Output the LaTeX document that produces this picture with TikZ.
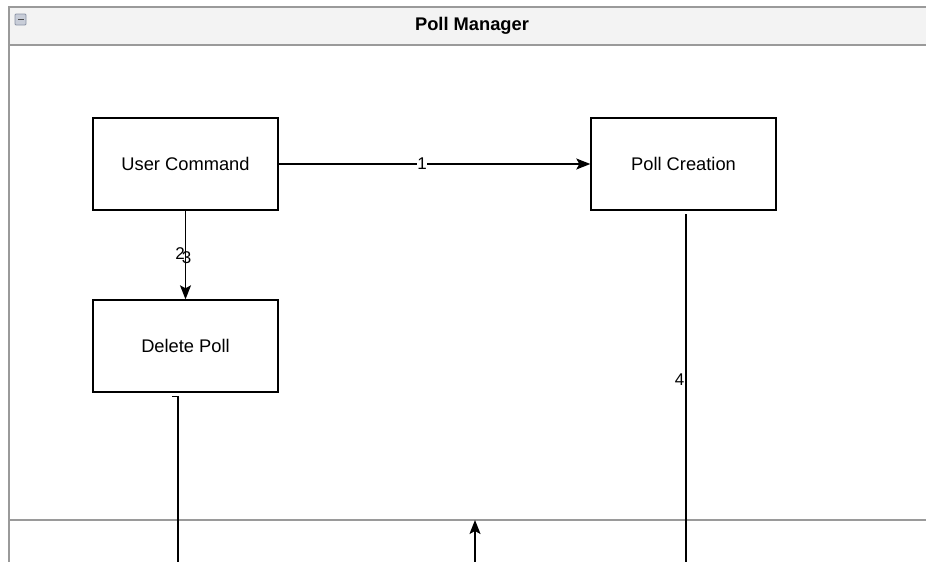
\documentclass[tikz,border=0pt]{standalone}
\usepackage{fontspec}
\setmainfont{Liberation Sans}
\usetikzlibrary{arrows.meta}
\definecolor{framegray}{HTML}{9A9A9A}
\definecolor{titlefill}{HTML}{F3F3F3}
\definecolor{iconfill}{HTML}{C8CDD8}
\definecolor{iconline}{HTML}{8C94A6}
\tikzset{
  block/.style={draw=black, line width=1.4pt, fill=white, minimum width=185pt,
    minimum height=92pt, inner sep=0pt, font=\fontsize{18.3}{20}\selectfont},
  flow/.style={draw=black, line width=1.5pt},
  flowarrow/.style={flow, -{Stealth[length=14pt,width=11pt,inset=3pt]}},
  elabel/.style={fill=white, inner sep=0.5pt, font=\fontsize{17}{19}\selectfont},
}
\begin{document}
\begin{tikzpicture}[x=1pt,y=-1pt]
  \useasboundingbox (0,0) rectangle (926,562);
  \begin{scope}
    \clip (0,0) rectangle (926,562);
    % swimlane container
    \fill[titlefill] (9,7) rectangle (940,45);
    \draw[framegray, line width=1.8pt] (9,562) -- (9,7) -- (940,7);
    \draw[framegray, line width=1.8pt] (9,45) -- (940,45);
    \draw[framegray, line width=1.8pt] (9,520) -- (940,520);
    % collapse icon
    \draw[iconline, fill=iconfill, line width=0.8pt, rounded corners=1pt] (15,14) rectangle (26,25);
    \fill[black!70] (17.5,18.8) rectangle (23.5,20.4);
    \node[font=\fontsize{18.3}{20}\selectfont\bfseries] (title) at (472,26) {Poll Manager};

    % blocks
    \node[block] (uc) at (185.5,164) {User Command};
    \node[block] (pc) at (683.5,164) {Poll Creation};
    \node[block] (dp) at (185.5,346) {Delete Poll};

    % connectors
    \draw[flowarrow] (uc.east) -- node[elabel, pos=0.46] (l1) {1} (pc.west);
    \draw[flowarrow] (uc.south) -- (dp.north);
    \node[elabel] (l2) at (180,254) {2};
    \node[font=\fontsize{17}{19}\selectfont, inner sep=0pt] (l3) at (186.5,258) {3};

    \coordinate (dpa) at (172,396.5);
    \coordinate (dpb) at (178,396.5);
    \coordinate (dpend) at (178,570);
    \draw[flow] (dpa) -- (dpb) -- (dpend);

    \coordinate (pcstart) at (686,214);
    \coordinate (pcend) at (686,570);
    \draw[flow] (pcstart) -- (pcend);
    \node[font=\fontsize{17}{19}\selectfont, anchor=east, inner sep=0pt] (l4) at (684.5,380) {4};

    \coordinate (upstart) at (475,570);
    \coordinate (uptip) at (475,520);
    \draw[flowarrow] (upstart) -- (uptip);
  \end{scope}
\end{tikzpicture}
\end{document}
